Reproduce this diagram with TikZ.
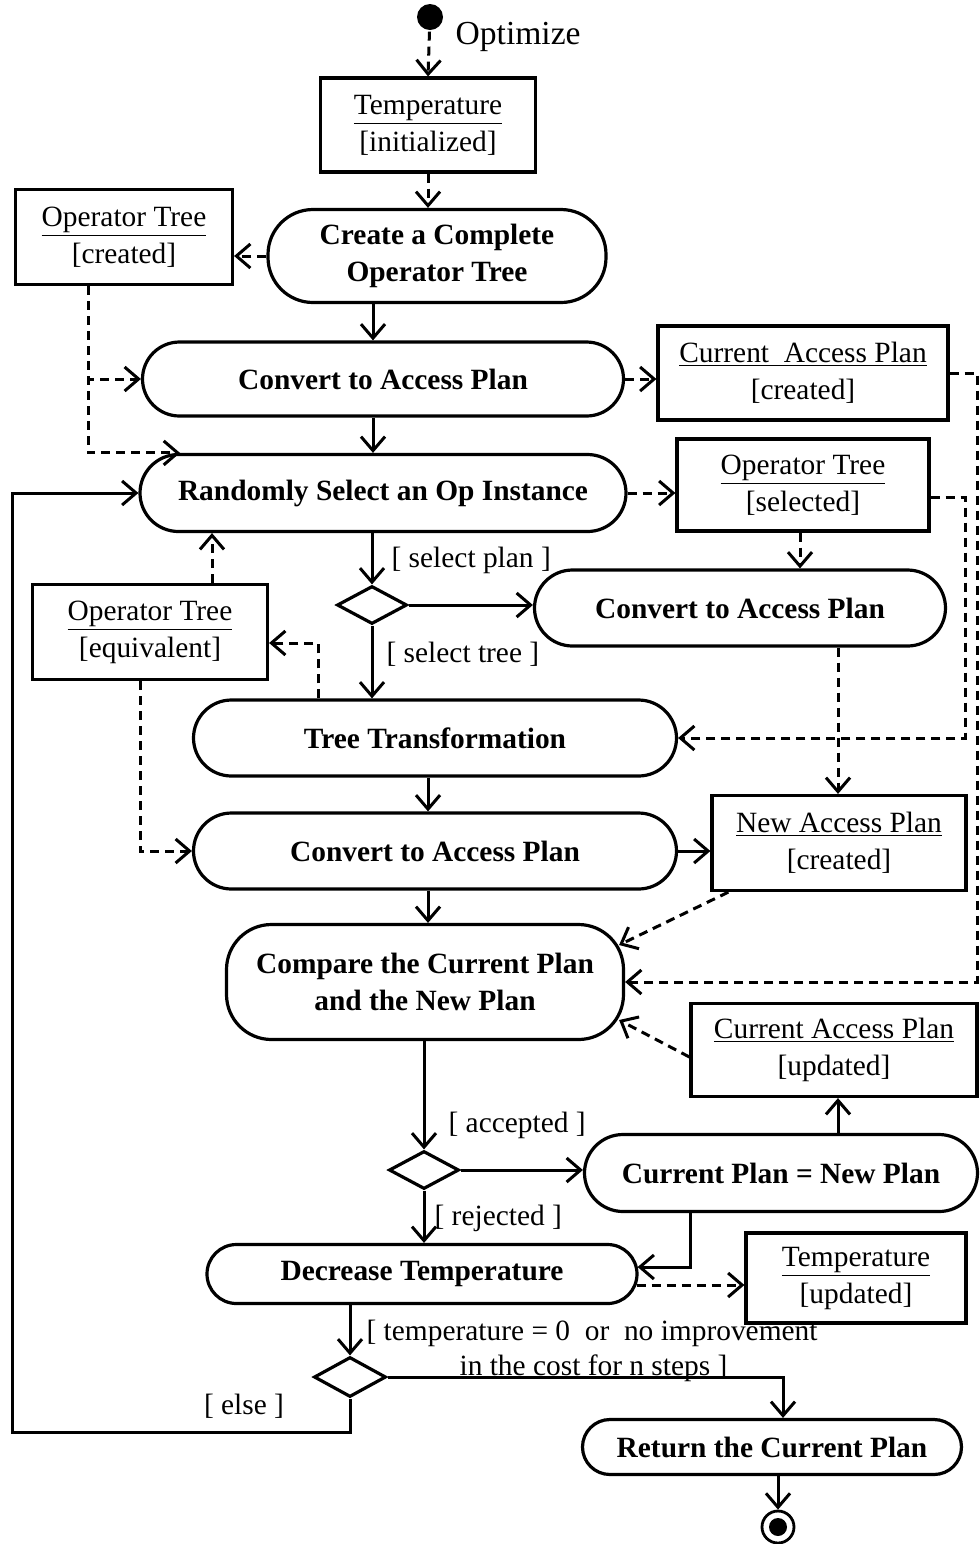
\documentclass[tikz,border=0pt]{standalone}
\usepackage{fontspec}
\setmainfont{Liberation Serif}
\usetikzlibrary{arrows.meta,shapes.geometric,calc}
\begin{document}
\begin{tikzpicture}[x=0.5pt,y=-0.5pt, line width=1.6pt,
  font=\fontsize{14.7}{18.5}\selectfont,
  obj/.style n args={2}{draw, line width=1.6pt, inner sep=0pt, align=center,
    minimum width=#1*0.5pt, minimum height=#2*0.5pt},
  act/.style n args={3}{draw, line width=1.6pt, inner sep=0pt, align=center,
    font=\fontsize{14.7}{18.5}\selectfont\bfseries,
    minimum width=#1*0.5pt, minimum height=#2*0.5pt, rounded corners=#3*0.5pt},
  choice/.style={draw, diamond, line width=1.6pt, inner sep=0pt,
    minimum width=35pt, minimum height=19pt},
  flow/.style={-{Straight Barb[length=7pt,width=12pt]}, line width=1.5pt},
  dflow/.style={flow, dash pattern=on 4.5pt off 3pt},
  guard/.style={anchor=west, inner sep=0pt}]
\useasboundingbox (0,0) rectangle (980,1544);

% nodes
\node[circle, fill, inner sep=0pt, minimum size=13pt] (start) at (430,17) {};
\node[anchor=west, inner sep=0pt, font=\fontsize{16.8}{20}\selectfont] (opt) at (454,37) {Optimize};
\node[obj={215}{94}] (tinit) at (428,125) {\underline{Temperature}\\{}[initialized]};
\node[act={338}{93}{45}] (create) at (437,256) {Create a Complete\\Operator Tree};
\node[obj={217}{95}] (otc) at (124,237) {\underline{Operator Tree}\\{}[created]};
\node[act={481}{74}{37}] (conv1) at (383,379) {Convert to Access Plan};
\node[obj={290}{94}] (cap1) at (803,373) {\underline{Current\ \ Access Plan}\\{}[created]};
\node[act={486}{77}{38.5}] (rand) at (383,493) {Randomly Select an Op Instance};
\node[obj={252}{92}] (ots) at (803,485) {\underline{Operator Tree}\\{}[selected]};
\node[choice] (d1) at (372,605) {};
\node[act={411}{76}{38}] (conv2) at (740,608) {Convert to Access Plan};
\node[obj={235}{95}] (ote) at (150,632) {\underline{Operator Tree}\\{}[equivalent]};
\node[act={483}{76}{38}] (tt) at (435,738) {Tree Transformation};
\node[act={483}{76}{38}] (conv3) at (435,851) {Convert to Access Plan};
\node[obj={254}{95}] (nap) at (839,843) {\underline{New Access Plan}\\{}[created]};
\node[act={397}{115}{45}] (cmp) at (425,982) {Compare the Current Plan\\and the New Plan};
\node[obj={286}{93}] (capu) at (834,1050) {\underline{Current Access Plan}\\{}[updated]};
\node[choice] (d2) at (424,1170) {};
\node[act={393}{77}{38.5}] (cpnp) at (781,1173) {Current Plan = New Plan};
\node[act={430}{59}{29.5}] (dect) at (422,1274) {Decrease Temperature};
\node[obj={220}{90}] (tu) at (856,1278) {\underline{Temperature}\\{}[updated]};
\node[choice, minimum width=36pt, minimum height=20pt] (d3) at (350,1377) {};
\node[act={379}{55}{27.5}] (ret) at (772,1447) {Return the Current Plan};
\node[circle, draw, line width=1.4pt, inner sep=0pt, minimum size=16pt] (end) at (778,1527) {};
\node[circle, fill, inner sep=0pt, minimum size=9pt] (endin) at (end) {};

% helper columns
\coordinate (xA) at (373,0);
\coordinate (xB) at (88,0);
\coordinate (xC) at (180,0);
\coordinate (xR) at (977,0);
\coordinate (xD) at (800,0);
\coordinate (pE) at (965,497);
\coordinate (pF) at (318,643);
\coordinate (xG) at (212,0);
\coordinate (xH) at (140,0);
\coordinate (xI) at (838,0);
\coordinate (xJ) at (428,0);
\coordinate (xK) at (690,0);
\coordinate (xL) at (783,0);
\coordinate (pM) at (12,1432);
\coordinate (dt) at ($(dect.east)+(-2,11)$);

% connectors
\draw[dflow] (start) -- (tinit.north);
\draw[dflow] (tinit.south) -- (tinit.south |- create.north);
\draw[dflow] (create.west) -- (create.west -| otc.east);
\draw[flow] (create.south -| xA) -- (conv1.north -| xA);
\draw[flow] (conv1.south -| xA) -- (rand.north -| xA);
\draw[dflow] (otc.south -| xB) |- (conv1.west);
\draw[dflow] (otc.south -| xB) |- (rand.north -| xC);
\draw[dflow] (conv1.east) -- (conv1.east -| cap1.west);
\draw[dflow] (cap1.east) -- (cap1.east -| xR) |- (cmp.east);
\draw[dflow] (rand.east) -- (rand.east -| ots.west);
\draw[dflow] (ots.south -| xD) -- (conv2.north -| xD);
\draw[dflow] (ots.east |- pE) -- (pE) |- (tt.east);
\draw[flow] (d1.north |- rand.south) -- (d1.north);
\node[guard] (gsp) at (390,560) {[ select plan ]};
\draw[flow] (d1.east) -- (d1.east -| conv2.west);
\draw[flow] (d1.south) -- (d1.south |- tt.north);
\node[guard] (gst) at (385,654) {[ select tree ]};
\draw[dflow] (tt.north -| pF) -- (pF) -- (pF -| ote.east);
\draw[dflow] (ote.north -| xG) -- (rand.south -| xG);
\draw[dflow] (ote.south -| xH) |- (conv3.west);
\draw[dflow] (conv2.south -| xI) -- (nap.north -| xI);
\draw[flow] (tt.south -| xJ) -- (conv3.north -| xJ);
\draw[flow] (conv3.east) -- (conv3.east -| nap.west);
\draw[dflow] ($(nap.south west)+(18,0)$) -- ($(cmp.east)+(-6,-37)$);
\draw[flow] (conv3.south -| xJ) -- (cmp.north -| xJ);
\draw[dflow] ($(capu.west)+(0,7)$) -- ($(cmp.east)+(-6,38)$);
\draw[flow] (cmp.south -| d2) -- (d2.north);
\node[guard] (gac) at (447,1125) {[ accepted ]};
\draw[flow] (d2.east) -- (d2.east -| cpnp.west);
\draw[flow] (cpnp.north -| xI) -- (capu.south -| xI);
\draw[flow] (cpnp.south -| xK) |- ($(dect.east)+(-1,-7)$);
\draw[flow] (d2.south) -- (d2.south |- dect.north);
\node[guard] (grj) at (433,1218) {[ rejected ]};
\draw[dflow] (dt) -- (dt -| tu.west);
\draw[flow] (dect.south -| d3) -- (d3.north);
\draw[flow] (d3.east) -| (ret.north -| xL);
\node[guard] (gt1) at (365,1333) {[ temperature = 0\ \ or\ \ no improvement};
\node[guard] (gt2) at (458,1368) {in the cost for n steps ]};
\node (gel) at (244,1406) {[ else ]};
\draw[flow] (d3.south) |- (pM) |- (rand.west);
\draw[flow] (ret.south -| end) -- (end.north);
\end{tikzpicture}
\end{document}
